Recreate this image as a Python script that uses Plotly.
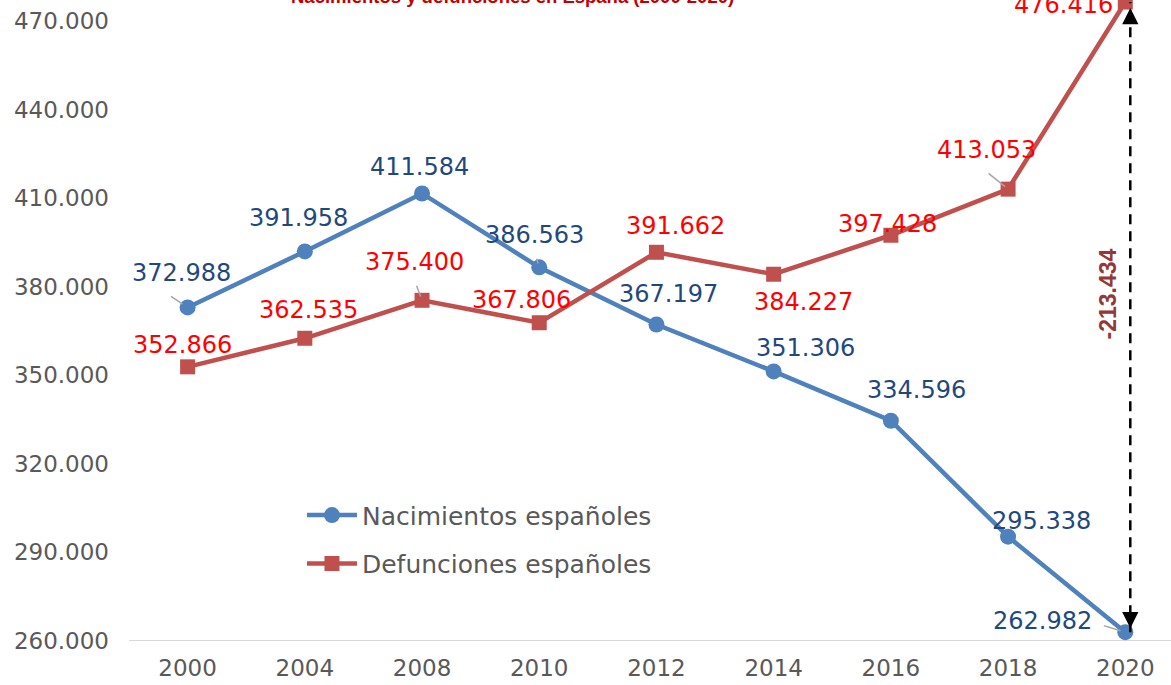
import plotly.graph_objects as go

years = ["2000", "2004", "2008", "2010", "2012", "2014", "2016", "2018", "2020"]
nacimientos = [372988, 391958, 411584, 386563, 367197, 351306, 334596, 295338, 262982]
defunciones = [352866, 362535, 375400, 367806, 391662, 384227, 397428, 413053, 476416]
y_ticks = [260000, 290000, 320000, 350000, 380000, 410000, 440000, 470000]
title_text = "Nacimientos y defunciones en España (2000-2020)"
name_nac = "Nacimientos españoles"
name_def = "Defunciones españoles"

# label offsets in pixels (x, y-up)
nac_off = [(-6, 34), (-6, 33), (-3, 26), (-5, 32), (12, 31), (32, 23), (26, 31), (33, 16), (-83, 11)]
def_off = [(-5, 22), (4, 28), (-8, 38), (-18, 23), (19, 26), (30, -28), (-3, 11), (-22, 39), (-62, -3)]
# leader lines: index -> (ax, ay, standoff)
nac_lead = {0: (-18, -12, 6), 3: (-3, -10, 4), 8: (-23, -7, 5)}
def_lead = {2: (-6, -16, 4), 7: (-21, -17, 4)}

def fmt(v):
    s = f"{abs(v):,}".replace(",", ".")
    return ("-" if v < 0 else "") + s

BLUE = "#4F81BD"
RED = "#C0504D"
FONT = "DejaVu Sans"

fig = go.Figure()
fig.add_trace(go.Scatter(x=years, y=nacimientos, name=name_nac, mode="lines+markers",
                         line=dict(color=BLUE, width=4.5),
                         marker=dict(symbol="circle", size=16, color=BLUE),
                         cliponaxis=False, legendgroup="a"))
fig.add_trace(go.Scatter(x=years, y=defunciones, name=name_def, mode="lines+markers",
                         line=dict(color=RED, width=4.5),
                         marker=dict(symbol="square", size=15, color=RED),
                         cliponaxis=False, legendgroup="b"))

ann = []
for i, (yr, v) in enumerate(zip(years, nacimientos)):
    if i in nac_lead:
        ax, ay, so = nac_lead[i]
        ann.append(dict(x=i, y=v, xref="x", yref="y", text="", showarrow=True, arrowhead=0,
                        ax=ax, ay=ay, standoff=so, arrowcolor="#A6A6A6", arrowwidth=1.5))
    dx, dy = nac_off[i]
    ann.append(dict(x=i, y=v, xref="x", yref="y", text=fmt(v), showarrow=False,
                    xshift=dx, yshift=dy, font=dict(family=FONT, size=24, color="#1F497D")))
for i, (yr, v) in enumerate(zip(years, defunciones)):
    if i in def_lead:
        ax, ay, so = def_lead[i]
        ann.append(dict(x=i, y=v, xref="x", yref="y", text="", showarrow=True, arrowhead=0,
                        ax=ax, ay=ay, standoff=so, arrowcolor="#A6A6A6", arrowwidth=1.5))
    dx, dy = def_off[i]
    ann.append(dict(x=i, y=v, xref="x", yref="y", text=fmt(v), showarrow=False,
                    xshift=dx, yshift=dy, font=dict(family=FONT, size=24, color="#FF0000")))

last = len(years) - 1
diff = nacimientos[-1] - defunciones[-1]
# arrowheads
ann.append(dict(x=last, y=defunciones[-1], xref="x", yref="y", text="", showarrow=True,
                arrowhead=2, arrowsize=1.3, arrowwidth=2.5, arrowcolor="black",
                ax=0, ay=16, standoff=6, xshift=5))
ann.append(dict(x=last, y=nacimientos[-1], xref="x", yref="y", text="", showarrow=True,
                arrowhead=2, arrowsize=1.3, arrowwidth=2.5, arrowcolor="black",
                ax=0, ay=-16, standoff=4, xshift=5))
ann.append(dict(x=last, y=(nacimientos[-1] + defunciones[-1]) / 2, xref="x", yref="y",
                text=fmt(diff), showarrow=False, textangle=-90, xshift=-17, yshift=23,
                font=dict(family="Liberation Sans", size=23, color="#953735", weight="bold")))
ann.append(dict(x=0.3676, y=1, xref="paper", yref="paper", text=title_text, showarrow=False,
                yanchor="middle", yshift=4,
                font=dict(family="Liberation Sans", size=18.5, color="#C00000", weight="bold")))

fig.update_layout(
    width=1171, height=685,
    margin=dict(l=129, r=0, t=0, b=44),
    paper_bgcolor="white", plot_bgcolor="white",
    showlegend=True,
    legend=dict(x=0.166, y=0.232, xanchor="left", yanchor="top",
                font=dict(family=FONT, size=25, color="#595959"),
                bgcolor="rgba(0,0,0,0)", itemwidth=50,
                traceorder="grouped", tracegroupgap=13),
    annotations=ann,
    shapes=[dict(type="line", xref="x", yref="y", xsizemode="pixel", xanchor=last,
                 x0=5, x1=5, y0=nacimientos[-1], y1=defunciones[-1],
                 line=dict(color="black", width=2.5, dash="10px,7px"))],
)
fig.update_xaxes(type="category", range=[-0.5, 8.39], showgrid=False, zeroline=False,
                 showline=False, ticks="", ticklabelstandoff=11,
                 tickfont=dict(family=FONT, size=23, color="#595959"))
fig.update_yaxes(range=[260000, 477115], tickvals=y_ticks, ticktext=[fmt(t) for t in y_ticks],
                 showgrid=False, zeroline=False, showline=False, ticks="",
                 ticklabelstandoff=19,
                 tickfont=dict(family=FONT, size=23, color="#595959"))
fig.add_hline(y=260000, line=dict(color="#D9D9D9", width=2), layer="below")

fig.write_html("out.html", config={"displayModeBar": False},
               post_script="document.body.style.margin='0';")
